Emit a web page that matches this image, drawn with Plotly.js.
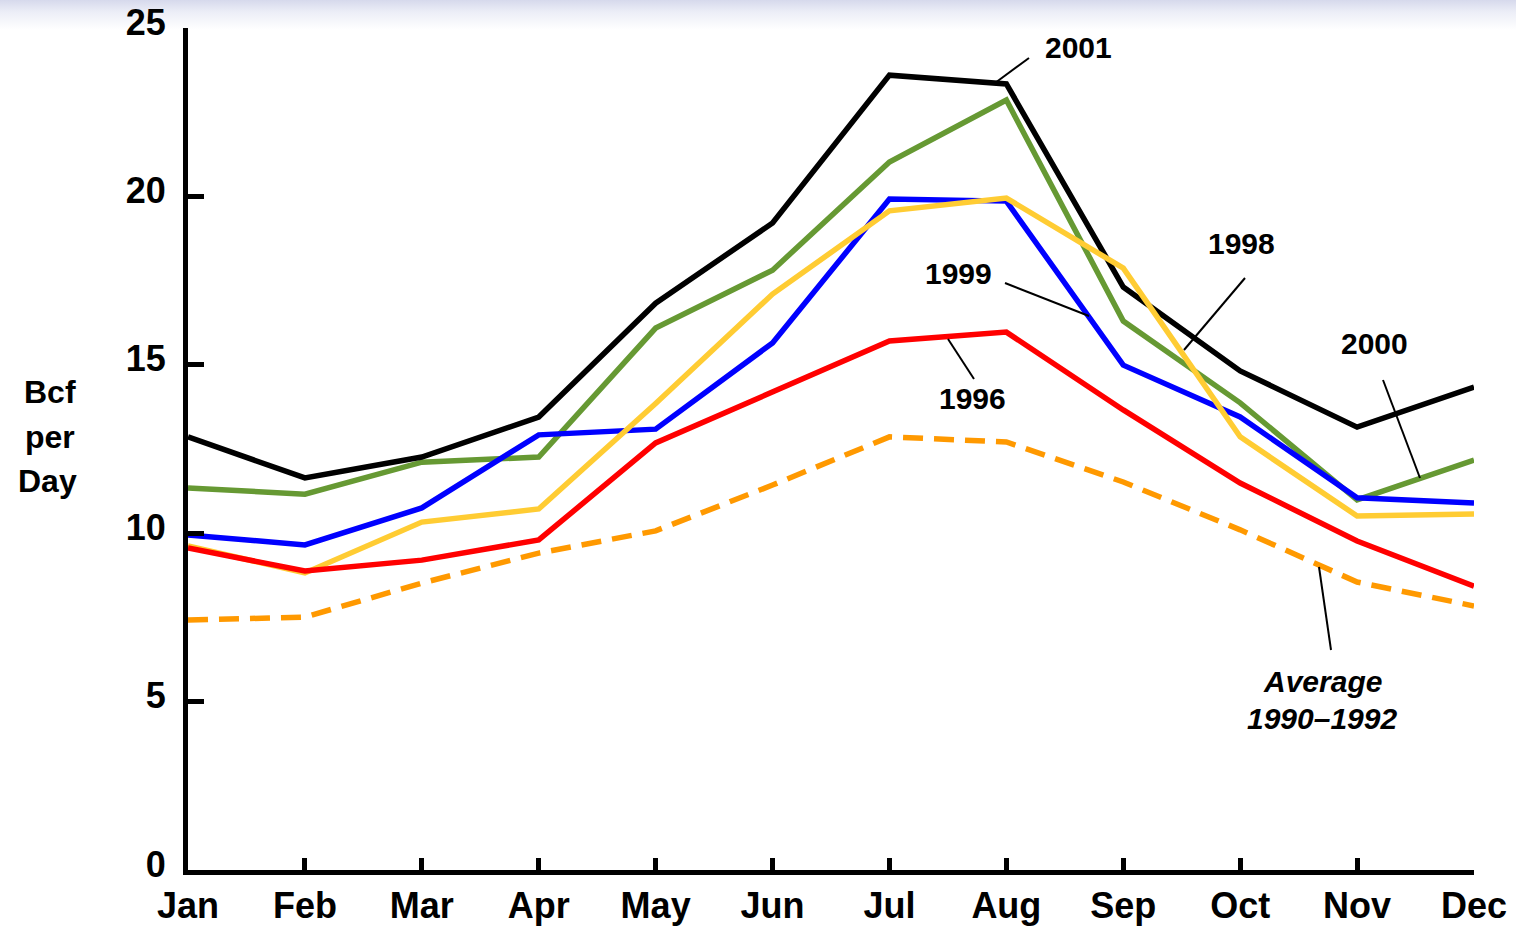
<!DOCTYPE html>
<html>
<head>
<meta charset="utf-8">
<script src="https://cdn.plot.ly/plotly-3.0.1.min.js"></script>
<style>
html, body { margin:0; padding:0; width:1516px; height:927px; overflow:hidden;
  background: linear-gradient(to bottom, #d6d9ec 0px, #eceef7 12px, #ffffff 30px, #ffffff 100%); }
#chart { width:1516px; height:927px; }
</style>
</head>
<body>
<div id="chart"></div>
<script>
const months = ["Jan","Feb","Mar","Apr","May","Jun","Jul","Aug","Sep","Oct","Nov","Dec"];
const avg9092 = [7.42, 7.51, 8.52, 9.41, 10.07, 11.43, 12.86, 12.71, 11.52, 10.10, 8.55, 7.84];
const y2000 = [11.34, 11.16, 12.11, 12.26, 16.09, 17.81, 21.02, 22.86, 16.30, 13.87, 10.99, 12.17];
const y2001 = [12.86, 11.64, 12.26, 13.45, 16.83, 19.21, 23.60, 23.34, 17.31, 14.82, 13.15, 14.34];
const y1999 = [9.95, 9.65, 10.75, 12.92, 13.09, 15.65, 19.92, 19.86, 14.99, 13.45, 11.05, 10.90];
const y1998 = [9.62, 8.82, 10.33, 10.72, 13.85, 17.10, 19.57, 19.95, 17.87, 12.86, 10.51, 10.57];
const y1996 = [9.56, 8.88, 9.20, 9.80, 12.68, 14.19, 15.71, 15.97, 13.66, 11.49, 9.77, 8.43];
const yTicks = [0, 5, 10, 15, 20, 25];

const L = 188, R = 1474, T = 28, B = 870;
const px = x => (x - L) / (R - L);
const py = y => (B - y) / (B - T);
const FONT = "Liberation Sans, Arial, sans-serif";

function tr(y, color, dash) {
  return { x: months, y: y, type: "scatter", mode: "lines", cliponaxis: false,
    line: { color: color, width: 5.5, dash: dash || "solid" }, hoverinfo: "skip" };
}
const data = [
  tr(avg9092, "#ff9900", "20px,11px"),
  tr(y2000, "#669933"),
  tr(y2001, "#000000"),
  tr(y1999, "#0000ff"),
  tr(y1998, "#ffcc33"),
  tr(y1996, "#ff0000")
];

function lbl(text, x, y, italic, size) {
  return { text: italic ? "<i>" + text + "</i>" : text, xref: "paper", yref: "paper",
    x: px(x), y: py(y), xanchor: "center", yanchor: "middle", showarrow: false,
    font: { family: FONT, size: size || 30, color: "#000", weight: "bold" } };
}
function ln(x0, y0, x1, y1) {
  return { type: "line", xref: "paper", yref: "paper", x0: px(x0), y0: py(y0), x1: px(x1), y1: py(y1),
    line: { color: "#000", width: 2 } };
}

const annotations = [
  lbl("2001", 1078, 48),
  lbl("1999", 958, 273),
  lbl("1998", 1241, 244),
  lbl("2000", 1374, 343),
  lbl("1996", 972, 398),
  lbl("Average", 1322, 681, true),
  lbl("1990\u20131992", 1322, 718, true),
  lbl("Bcf", 50, 392, false, 32),
  lbl("per", 50, 437, false, 32),
  lbl("Day", 47, 481, false, 32)
];
const shapes = [
  ln(995, 83, 1029, 58),
  ln(1005, 283, 1089, 316),
  ln(1245, 278, 1184, 350),
  ln(1383, 380, 1420, 478),
  ln(948, 339, 974, 379),
  ln(1319, 567, 1331, 650)
];

const layout = {
  width: 1516, height: 927,
  margin: { l: L, r: 1516 - R, t: T, b: 927 - B, pad: 0 },
  paper_bgcolor: "rgba(0,0,0,0)", plot_bgcolor: "rgba(0,0,0,0)",
  showlegend: false,
  xaxis: { type: "category", range: [0, 11], showgrid: false, zeroline: false,
    showline: true, linecolor: "#000", linewidth: 5,
    ticks: "inside", ticklen: 12, tickwidth: 5, tickcolor: "#000",
    tickfont: { family: FONT, size: 36, color: "#000", weight: "bold" },
    ticklabelstandoff: 0 },
  yaxis: { range: [0, 25], tickvals: yTicks, showgrid: false, zeroline: false,
    showline: true, linecolor: "#000", linewidth: 5,
    ticks: "inside", ticklen: 16, tickwidth: 5, tickcolor: "#000",
    tickfont: { family: FONT, size: 36, color: "#000", weight: "bold" },
    ticklabelstandoff: 10, ticklabelshift: -6 },
  annotations: annotations,
  shapes: shapes
};
Plotly.newPlot("chart", data, layout, { displayModeBar: false, staticPlot: true });
</script>
</body>
</html>
